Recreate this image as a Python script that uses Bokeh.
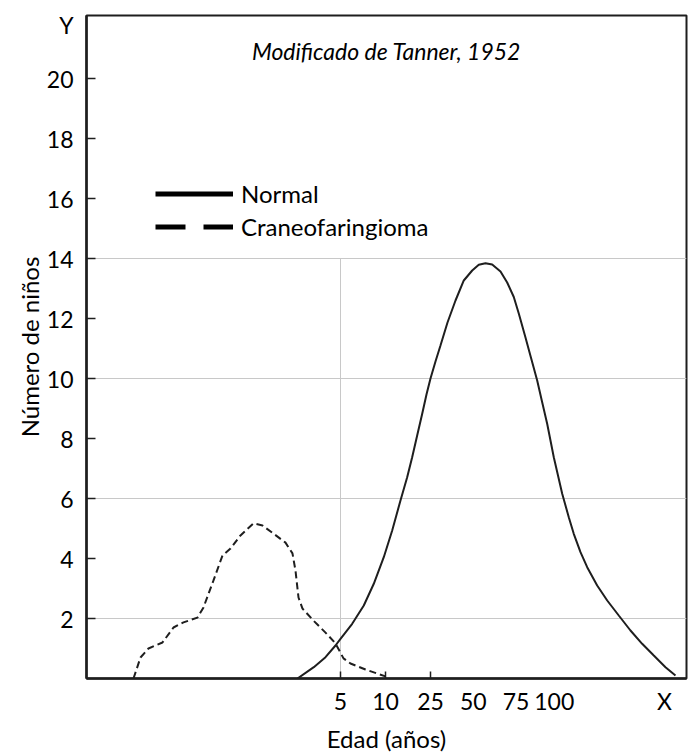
from bokeh.plotting import figure
from bokeh.models import FixedTicker, Legend, LegendItem, Label
from bokeh.embed import file_html
from bokeh.resources import INLINE

# ---- data ----
AGE_LABELS = ["5", "10", "25", "50", "75", "100", "X"]
AGE_POS = [0, 1, 2, 2.95, 3.9, 4.75, 7.2]
TICKED = 3  # ages with a tick mark: 5, 10, 25

Y_TICKS = [2, 4, 6, 8, 10, 12, 14, 16, 18, 20]
Y_LETTER_POS = 21.8
GRID_Y = [2, 6, 10, 14]

normal_x = [-0.956, -0.593, -0.333, -0.111, 0.0, 0.26, 0.518, 0.74, 0.962, 1.149,
            1.333, 1.482, 1.593, 1.704, 1.816, 1.911, 2.0, 2.111, 2.222, 2.378,
            2.556, 2.74, 2.927, 3.073, 3.222, 3.371, 3.556, 3.704, 3.851, 3.962,
            4.111, 4.238, 4.371, 4.482, 4.593, 4.74, 4.927, 5.073, 5.184, 5.333,
            5.482, 5.704, 5.927, 6.184, 6.444, 6.704, 6.962, 7.222, 7.444]
normal_y = [0.0, 0.377, 0.71, 1.1, 1.323, 1.823, 2.433, 3.157, 4.043, 4.933,
            5.933, 6.71, 7.377, 8.1, 8.823, 9.467, 10.0, 10.567, 11.1, 11.867,
            12.6, 13.267, 13.6, 13.79, 13.843, 13.8, 13.567, 13.2, 12.717, 12.167,
            11.367, 10.667, 9.933, 9.21, 8.49, 7.377, 6.157, 5.377, 4.823, 4.21,
            3.71, 3.1, 2.6, 2.1, 1.6, 1.157, 0.767, 0.377, 0.1]

cranio_x = [-4.6, -4.444, -4.267, -3.956, -3.711, -3.489, -3.178, -3.044, -2.822,
            -2.622, -2.444, -2.222, -1.933, -1.733, -1.489, -1.222, -1.067, -1.0,
            -0.933, -0.844, -0.6, -0.333, -0.111, 0.067, 0.222, 0.556, 1.0]
cranio_y = [0.0, 0.7, 1.0, 1.2, 1.7, 1.87, 2.03, 2.37, 3.27,
            4.1, 4.33, 4.77, 5.17, 5.1, 4.83, 4.53, 4.17, 3.6,
            2.7, 2.33, 1.93, 1.53, 1.17, 0.67, 0.5, 0.3, 0.07]

X_START, X_END = -5.644, 7.689
Y_START, Y_END = 0, 22.1

FONT = "Lato"
INK = "#1e1e1e"
GRID = "#c8c8c8"
NAN = float("nan")

p = figure(width=693, height=756, output_backend="svg", toolbar_location=None,
           x_range=(X_START, X_END), y_range=(Y_START, Y_END),
           min_border_left=86, min_border_right=7, min_border_top=15, min_border_bottom=78)

p.outline_line_color = INK
p.outline_line_width = 2
p.background_fill_color = "white"

# grid
p.xgrid.visible = False
p.ygrid.ticker = FixedTicker(ticks=GRID_Y)
p.ygrid.grid_line_color = GRID
p.ygrid.grid_line_width = 1
p.segment(x0=[AGE_POS[0]], y0=[Y_START], x1=[AGE_POS[0]], y1=[GRID_Y[-1]],
          line_color=GRID, line_width=1)

# x axis
xa = p.xaxis[0]
xa.ticker = FixedTicker(ticks=AGE_POS, minor_ticks=AGE_POS[:TICKED])
xa.major_label_overrides = {pos: lab for pos, lab in zip(AGE_POS, AGE_LABELS)}
xa.major_tick_in = 0
xa.major_tick_out = 0
xa.minor_tick_in = 7
xa.minor_tick_out = 0
xa.minor_tick_line_color = INK
xa.minor_tick_line_width = 1.5
xa.axis_line_color = INK
xa.axis_line_width = 2.5
xa.major_label_text_font = FONT
xa.major_label_text_font_size = "23px"
xa.major_label_text_color = "black"
xa.major_label_standoff = 8
xa.axis_label = "Edad (años)"
xa.axis_label_text_font = FONT
xa.axis_label_text_font_size = "24px"
xa.axis_label_text_font_style = "normal"
xa.axis_label_text_color = "black"
xa.axis_label_standoff = 6

# y axis
ya = p.yaxis[0]
ya.ticker = FixedTicker(ticks=Y_TICKS + [Y_LETTER_POS], minor_ticks=Y_TICKS)
ya.major_label_overrides = {Y_LETTER_POS: "Y"}
ya.major_tick_in = 0
ya.major_tick_out = 0
ya.minor_tick_in = 9
ya.minor_tick_out = 0
ya.minor_tick_line_color = INK
ya.minor_tick_line_width = 1.5
ya.axis_line_color = INK
ya.axis_line_width = 2.5
ya.major_label_text_font = FONT
ya.major_label_text_font_size = "23px"
ya.major_label_text_color = "black"
ya.major_label_standoff = 13
ya.axis_label = "Número de niños"
ya.axis_label_text_font = FONT
ya.axis_label_text_font_size = "24px"
ya.axis_label_text_font_style = "normal"
ya.axis_label_text_color = "black"
ya.axis_label_standoff = 0

# curves
p.line(normal_x, normal_y, line_color=INK, line_width=2)
p.line(cranio_x, cranio_y, line_color=INK, line_width=2, line_dash="7 4")

# legend (thick sample lines; renderers hold no visible data)
ln = p.line(x=[NAN, NAN], y=[NAN, NAN], line_color="black", line_width=5)
lc = p.line(x=[NAN, NAN], y=[NAN, NAN], line_color="black", line_width=5, line_dash="30 18")
legend = Legend(items=[LegendItem(label="Normal", renderers=[ln]),
                       LegendItem(label="Craneofaringioma", renderers=[lc])],
                location=(69, 435), border_line_color=None, background_fill_alpha=0,
                padding=0, margin=0, spacing=0, glyph_width=78, glyph_height=33,
                label_height=33, label_standoff=8, label_text_font=FONT,
                label_text_font_size="24px", label_text_color="black")
p.add_layout(legend)

p.add_layout(Label(x=(X_START + X_END) / 2, y=20.93, text="Modificado de Tanner, 1952",
                   text_font=FONT, text_font_style="italic", text_font_size="23px",
                   text_align="center", text_baseline="middle", text_color="black"))

open("out.html", "w").write(file_html(p, INLINE))
